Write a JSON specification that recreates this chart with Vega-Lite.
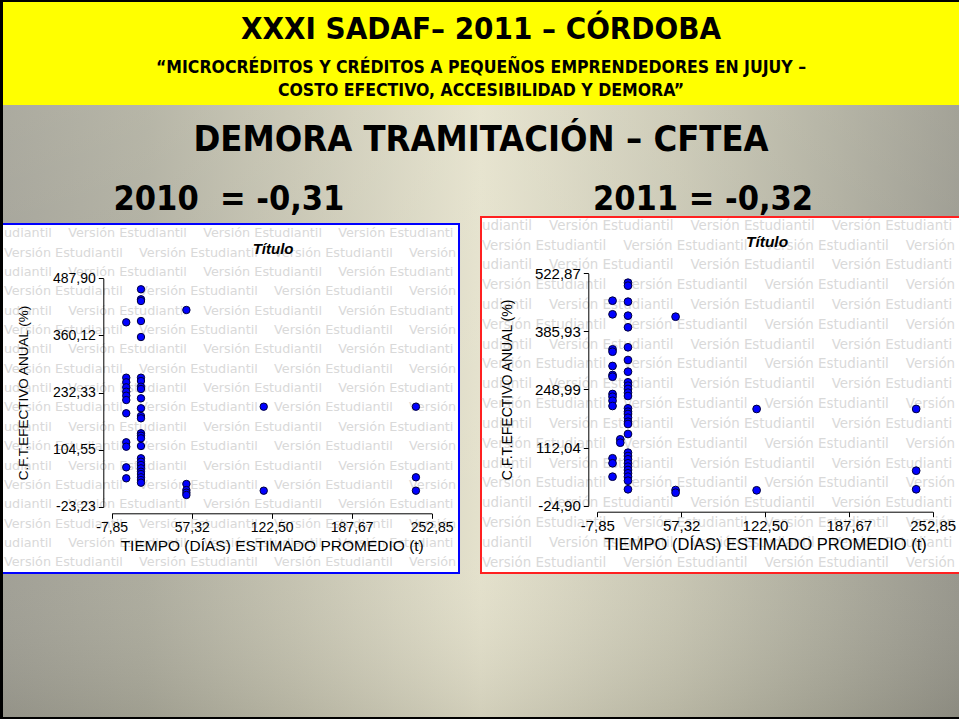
{
  "$schema": "https://vega.github.io/schema/vega-lite/v6.json",
  "background": "#000000",
  "padding": {"left": 3, "top": 2, "right": 0, "bottom": 2},
  "spacing": 0,
  "config": {
    "view": {"stroke": null},
    "concat": {"spacing": 0},
    "axis": {
      "grid": false,
      "domainColor": "#000000",
      "domainWidth": 1,
      "tickColor": "#000000",
      "tickSize": 5,
      "labelColor": "#000000",
      "labelFont": "Liberation Sans",
      "titleFont": "Liberation Sans",
      "titleColor": "#000000",
      "titleFontWeight": "normal",
      "labelFlush": false,
      "labelOverlap": false,
      "labelBound": false
    }
  },
  "datasets": {
    "y2010": [
      {"t": 4, "cft": 389.4}, {"t": 4, "cft": 265.5}, {"t": 4, "cft": 255.2}, {"t": 4, "cft": 244.0},
      {"t": 4, "cft": 234.1}, {"t": 4, "cft": 225.2}, {"t": 4, "cft": 215.5}, {"t": 4, "cft": 185.8},
      {"t": 4, "cft": 120.9}, {"t": 4, "cft": 111.0}, {"t": 4, "cft": 64.9}, {"t": 4, "cft": 40.3},
      {"t": 16, "cft": 463.3}, {"t": 16, "cft": 440.9}, {"t": 16, "cft": 437.1}, {"t": 16, "cft": 392.3},
      {"t": 16, "cft": 356.5}, {"t": 16, "cft": 265.5}, {"t": 16, "cft": 258.1}, {"t": 16, "cft": 245.3},
      {"t": 16, "cft": 240.2}, {"t": 16, "cft": 219.3}, {"t": 16, "cft": 197.0}, {"t": 16, "cft": 179.7},
      {"t": 16, "cft": 174.6}, {"t": 16, "cft": 141.0}, {"t": 16, "cft": 135.7}, {"t": 16, "cft": 129.8},
      {"t": 16, "cft": 112.6}, {"t": 16, "cft": 85.1}, {"t": 16, "cft": 77.5}, {"t": 16, "cft": 70.1},
      {"t": 16, "cft": 62.7}, {"t": 16, "cft": 55.1}, {"t": 16, "cft": 49.9}, {"t": 16, "cft": 42.6},
      {"t": 16, "cft": 36.5}, {"t": 16, "cft": 30.5},
      {"t": 53, "cft": 417.0}, {"t": 53, "cft": 27.6}, {"t": 53, "cft": 14.0}, {"t": 53, "cft": 8.1}, {"t": 53, "cft": 3.0},
      {"t": 116, "cft": 200.6}, {"t": 116, "cft": 12.6},
      {"t": 240, "cft": 200.6}, {"t": 240, "cft": 42.6}, {"t": 240, "cft": 12.6}
    ],
    "y2011": [
      {"t": 4, "cft": 458.3}, {"t": 4, "cft": 426.2}, {"t": 4, "cft": 343.7}, {"t": 4, "cft": 338.1},
      {"t": 4, "cft": 304.4}, {"t": 4, "cft": 283.2}, {"t": 4, "cft": 279.2}, {"t": 4, "cft": 238.4},
      {"t": 4, "cft": 232.0}, {"t": 4, "cft": 222.6}, {"t": 4, "cft": 210.1}, {"t": 4, "cft": 86.9},
      {"t": 4, "cft": 75.1}, {"t": 4, "cft": 43.5},
      {"t": 10, "cft": 131.6}, {"t": 10, "cft": 123.6},
      {"t": 16, "cft": 500.7}, {"t": 16, "cft": 493.7}, {"t": 16, "cft": 456.0}, {"t": 16, "cft": 423.0},
      {"t": 16, "cft": 395.6}, {"t": 16, "cft": 348.5}, {"t": 16, "cft": 318.5}, {"t": 16, "cft": 291.0},
      {"t": 16, "cft": 266.0}, {"t": 16, "cft": 258.0}, {"t": 16, "cft": 250.2}, {"t": 16, "cft": 241.5},
      {"t": 16, "cft": 233.7}, {"t": 16, "cft": 204.7}, {"t": 16, "cft": 196.7}, {"t": 16, "cft": 191.3},
      {"t": 16, "cft": 182.5}, {"t": 16, "cft": 173.1}, {"t": 16, "cft": 167.7}, {"t": 16, "cft": 144.1},
      {"t": 16, "cft": 100.1}, {"t": 16, "cft": 92.3}, {"t": 16, "cft": 84.5}, {"t": 16, "cft": 75.1},
      {"t": 16, "cft": 67.1}, {"t": 16, "cft": 59.3}, {"t": 16, "cft": 51.5}, {"t": 16, "cft": 43.5},
      {"t": 16, "cft": 34.1}, {"t": 16, "cft": 13.8},
      {"t": 53, "cft": 420.6}, {"t": 53, "cft": 12.1}, {"t": 53, "cft": 5.8},
      {"t": 116, "cft": 203.1}, {"t": 116, "cft": 11.4},
      {"t": 240, "cft": 203.1}, {"t": 240, "cft": 57.6}, {"t": 240, "cft": 13.8}
    ],
    "watermark": [
      {"n": 1, "line": "udiantil\u00a0\u00a0\u00a0\u00a0Versión Estudiantil\u00a0\u00a0\u00a0\u00a0Versión Estudiantil\u00a0\u00a0\u00a0\u00a0Versión Estudianti"},
      {"n": 2, "line": "Versión Estudiantil\u00a0\u00a0\u00a0\u00a0Versión Estudiantil\u00a0\u00a0\u00a0\u00a0Versión Estudiantil\u00a0\u00a0\u00a0\u00a0Versión"},
      {"n": 3, "line": "udiantil\u00a0\u00a0\u00a0\u00a0Versión Estudiantil\u00a0\u00a0\u00a0\u00a0Versión Estudiantil\u00a0\u00a0\u00a0\u00a0Versión Estudianti"},
      {"n": 4, "line": "Versión Estudiantil\u00a0\u00a0\u00a0\u00a0Versión Estudiantil\u00a0\u00a0\u00a0\u00a0Versión Estudiantil\u00a0\u00a0\u00a0\u00a0Versión"},
      {"n": 5, "line": "udiantil\u00a0\u00a0\u00a0\u00a0Versión Estudiantil\u00a0\u00a0\u00a0\u00a0Versión Estudiantil\u00a0\u00a0\u00a0\u00a0Versión Estudianti"},
      {"n": 6, "line": "Versión Estudiantil\u00a0\u00a0\u00a0\u00a0Versión Estudiantil\u00a0\u00a0\u00a0\u00a0Versión Estudiantil\u00a0\u00a0\u00a0\u00a0Versión"},
      {"n": 7, "line": "udiantil\u00a0\u00a0\u00a0\u00a0Versión Estudiantil\u00a0\u00a0\u00a0\u00a0Versión Estudiantil\u00a0\u00a0\u00a0\u00a0Versión Estudianti"},
      {"n": 8, "line": "Versión Estudiantil\u00a0\u00a0\u00a0\u00a0Versión Estudiantil\u00a0\u00a0\u00a0\u00a0Versión Estudiantil\u00a0\u00a0\u00a0\u00a0Versión"},
      {"n": 9, "line": "udiantil\u00a0\u00a0\u00a0\u00a0Versión Estudiantil\u00a0\u00a0\u00a0\u00a0Versión Estudiantil\u00a0\u00a0\u00a0\u00a0Versión Estudianti"},
      {"n": 10, "line": "Versión Estudiantil\u00a0\u00a0\u00a0\u00a0Versión Estudiantil\u00a0\u00a0\u00a0\u00a0Versión Estudiantil\u00a0\u00a0\u00a0\u00a0Versión"},
      {"n": 11, "line": "udiantil\u00a0\u00a0\u00a0\u00a0Versión Estudiantil\u00a0\u00a0\u00a0\u00a0Versión Estudiantil\u00a0\u00a0\u00a0\u00a0Versión Estudianti"},
      {"n": 12, "line": "Versión Estudiantil\u00a0\u00a0\u00a0\u00a0Versión Estudiantil\u00a0\u00a0\u00a0\u00a0Versión Estudiantil\u00a0\u00a0\u00a0\u00a0Versión"},
      {"n": 13, "line": "udiantil\u00a0\u00a0\u00a0\u00a0Versión Estudiantil\u00a0\u00a0\u00a0\u00a0Versión Estudiantil\u00a0\u00a0\u00a0\u00a0Versión Estudianti"},
      {"n": 14, "line": "Versión Estudiantil\u00a0\u00a0\u00a0\u00a0Versión Estudiantil\u00a0\u00a0\u00a0\u00a0Versión Estudiantil\u00a0\u00a0\u00a0\u00a0Versión"},
      {"n": 15, "line": "udiantil\u00a0\u00a0\u00a0\u00a0Versión Estudiantil\u00a0\u00a0\u00a0\u00a0Versión Estudiantil\u00a0\u00a0\u00a0\u00a0Versión Estudianti"},
      {"n": 16, "line": "Versión Estudiantil\u00a0\u00a0\u00a0\u00a0Versión Estudiantil\u00a0\u00a0\u00a0\u00a0Versión Estudiantil\u00a0\u00a0\u00a0\u00a0Versión"},
      {"n": 17, "line": "udiantil\u00a0\u00a0\u00a0\u00a0Versión Estudiantil\u00a0\u00a0\u00a0\u00a0Versión Estudiantil\u00a0\u00a0\u00a0\u00a0Versión Estudianti"},
      {"n": 18, "line": "Versión Estudiantil\u00a0\u00a0\u00a0\u00a0Versión Estudiantil\u00a0\u00a0\u00a0\u00a0Versión Estudiantil\u00a0\u00a0\u00a0\u00a0Versión"}
    ]
  },
  "vconcat": [
    {
      "width": 956,
      "height": 103,
      "view": {"fill": "#ffff00", "stroke": null},
      "title": {
        "text": "XXXI SADAF– 2011 – CÓRDOBA",
        "subtitle": ["“MICROCRÉDITOS Y CRÉDITOS A PEQUEÑOS EMPRENDEDORES EN JUJUY –", "COSTO EFECTIVO, ACCESIBILIDAD Y DEMORA”"],
        "anchor": "middle",
        "offset": -98,
        "font": "DejaVu Sans Condensed",
        "fontSize": 31,
        "fontWeight": "bold",
        "color": "#000000",
        "subtitleFont": "DejaVu Sans Condensed",
        "subtitleFontSize": 17.5,
        "subtitleFontWeight": "bold",
        "subtitleColor": "#000000",
        "subtitleLineHeight": 23,
        "subtitlePadding": 13
      },
      "data": {"values": [{}]},
      "mark": {"type": "text"}
    },
    {
      "width": 956,
      "height": 612,
      "view": {
        "stroke": null,
        "fill": {
          "gradient": "linear",
          "x1": 0, "y1": 0, "x2": 1, "y2": 0,
          "stops": [
            {"offset": 0, "color": "#a09f95"},
            {"offset": 0.15, "color": "#adac9e"},
            {"offset": 0.3, "color": "#c4c2b0"},
            {"offset": 0.5, "color": "#e4e1cc"},
            {"offset": 0.7, "color": "#c8c6b3"},
            {"offset": 0.85, "color": "#afae9f"},
            {"offset": 1, "color": "#97968c"}
          ]
        }
      },
      "title": {
        "text": "DEMORA TRAMITACIÓN – CFTEA",
        "anchor": "middle",
        "offset": -54,
        "font": "DejaVu Sans Condensed",
        "fontSize": 36,
        "fontWeight": "bold",
        "color": "#000000"
      },
      "resolve": {
        "scale": {"x": "independent", "y": "independent"},
        "axis": {"x": "independent", "y": "independent"}
      },
      "layer": [
        {
          "resolve": {
            "scale": {"x": "independent", "y": "independent"},
            "axis": {"x": "independent", "y": "independent"}
          },
          "layer": [
            {
              "data": {"values": [{}]},
              "mark": {
                "type": "rect",
                "fill": {
                  "gradient": "linear",
                  "x1": 0, "y1": 0, "x2": 0, "y2": 1,
                  "stops": [
                    {"offset": 0, "color": "rgba(255,253,235,0.12)"},
                    {"offset": 0.7, "color": "rgba(255,255,255,0)"},
                    {"offset": 1, "color": "rgba(40,38,20,0.1)"}
                  ]
                }
              },
              "encoding": {}
            },
            {
              "data": {"values": [{}]},
              "mark": {"type": "rect", "fill": "#ffffff", "stroke": "#0000ff", "strokeWidth": 2, "clip": true},
              "encoding": {
                "x": {"datum": -100, "type": "quantitative", "axis": null, "scale": {"domain": [-7.85, 252.85], "range": [108.7, 428.7], "nice": false, "zero": false}},
                "x2": {"datum": 275.1},
                "y": {"datum": 609.4, "type": "quantitative", "axis": null, "scale": {"domain": [-23.23, 487.9], "range": [401.7, 173.3], "nice": false, "zero": false}},
                "y2": {"datum": -171.6}
              }
            },
            {
              "data": {"name": "watermark"},
              "mark": {"type": "text", "font": "DejaVu Sans", "fontSize": 12.8, "color": "#d9d9d9", "align": "left", "baseline": "middle"},
              "encoding": {
                "x": {"datum": -95.6, "type": "quantitative", "axis": null, "scale": {"domain": [-7.85, 252.85], "range": [108.7, 428.7], "nice": false, "zero": false}},
                "y": {"field": "n", "type": "ordinal", "axis": null, "scale": {"type": "point", "range": [128.3, 457.3], "padding": 0}},
                "text": {"field": "line"}
              }
            },
            {
              "data": {"name": "y2010"},
              "mark": {"type": "circle", "size": 55, "color": "#0000ff", "stroke": "#00003a", "strokeWidth": 1, "opacity": 1},
              "encoding": {
                "x": {
                  "field": "t", "type": "quantitative",
                  "scale": {"domain": [-7.85, 252.85], "range": [108.7, 428.7], "nice": false, "zero": false},
                  "axis": {
                    "orient": "bottom", "offset": -203.7, "zindex": 1,
                    "values": [-7.85, 57.32, 122.5, 187.67, 252.85],
                    "labelExpr": "(datum.value < 0 ? '-' : '') + replace(format(abs(datum.value), '.2f'), '.', ',')",
                    "title": "TIEMPO (DÍAS) ESTIMADO PROMEDIO (t)",
                    "labelFontSize": 14, "labelPadding": 2,
                    "titleFontSize": 15.5, "titlePadding": 4
                  }
                },
                "y": {
                  "field": "cft", "type": "quantitative",
                  "scale": {"domain": [-23.23, 487.9], "range": [401.7, 173.3], "nice": false, "zero": false},
                  "axis": {
                    "orient": "left", "offset": -100.3, "zindex": 1,
                    "values": [-23.23, 104.55, 232.33, 360.12, 487.9],
                    "labelExpr": "(datum.value < 0 ? '-' : '') + replace(format(abs(datum.value), '.2f'), '.', ',')",
                    "title": "C.F.T.EFECTIVO ANUAL (%)",
                    "labelFontSize": 14, "labelPadding": 3,
                    "titleFontSize": 13.5, "titlePadding": 22
                  }
                }
              }
            },
            {
              "data": {"values": [{}]},
              "mark": {"type": "text", "font": "Liberation Sans", "fontSize": 15, "fontWeight": "bold", "fontStyle": "italic", "color": "#000000", "baseline": "middle", "align": "center"},
              "encoding": {
                "x": {"datum": 123.6, "type": "quantitative", "axis": null, "scale": {"domain": [-7.85, 252.85], "range": [108.7, 428.7], "nice": false, "zero": false}},
                "y": {"datum": 553.5, "type": "quantitative", "axis": null, "scale": {"domain": [-23.23, 487.9], "range": [401.7, 173.3], "nice": false, "zero": false}},
                "text": {"value": "Título"}
              }
            },
            {
              "data": {"values": [{}]},
              "mark": {"type": "text", "font": "DejaVu Sans Condensed", "fontSize": 34, "fontWeight": "bold", "color": "#000000", "baseline": "middle", "align": "center"},
              "encoding": {
                "x": {"datum": 87.7, "type": "quantitative", "axis": null, "scale": {"domain": [-7.85, 252.85], "range": [108.7, 428.7], "nice": false, "zero": false}},
                "y": {"datum": 663.2, "type": "quantitative", "axis": null, "scale": {"domain": [-23.23, 487.9], "range": [401.7, 173.3], "nice": false, "zero": false}},
                "text": {"value": "2010\u00a0 = -0,31"}
              }
            }
          ]
        },
        {
          "resolve": {
            "scale": {"x": "independent", "y": "independent"},
            "axis": {"x": "independent", "y": "independent"}
          },
          "layer": [
            {
              "data": {"values": [{}]},
              "mark": {"type": "rect", "fill": "#ffffff", "stroke": "#ff2020", "strokeWidth": 2, "clip": true},
              "encoding": {
                "x": {"datum": -98.25, "type": "quantitative", "axis": null, "scale": {"domain": [-7.85, 252.85], "range": [594.3, 929.7], "nice": false, "zero": false}},
                "x2": {"datum": 285},
                "y": {"datum": 655.6, "type": "quantitative", "axis": null, "scale": {"domain": [-24.9, 522.87], "range": [400.7, 168.3], "nice": false, "zero": false}},
                "y2": {"datum": -183.5}
              }
            },
            {
              "data": {"name": "watermark"},
              "mark": {"type": "text", "font": "DejaVu Sans", "fontSize": 13.4, "color": "#d9d9d9", "align": "left", "baseline": "middle"},
              "encoding": {
                "x": {"datum": -97.5, "type": "quantitative", "axis": null, "scale": {"domain": [-7.85, 252.85], "range": [594.3, 929.7], "nice": false, "zero": false}},
                "y": {"field": "n", "type": "ordinal", "axis": null, "scale": {"type": "point", "range": [120.7, 457.7], "padding": 0}},
                "text": {"field": "line"}
              }
            },
            {
              "data": {"name": "y2011"},
              "mark": {"type": "circle", "size": 60, "color": "#0000ff", "stroke": "#00003a", "strokeWidth": 1, "opacity": 1},
              "encoding": {
                "x": {
                  "field": "t", "type": "quantitative",
                  "scale": {"domain": [-7.85, 252.85], "range": [594.3, 929.7], "nice": false, "zero": false},
                  "axis": {
                    "orient": "bottom", "offset": -205.3, "zindex": 1,
                    "values": [-7.85, 57.32, 122.5, 187.67, 252.85],
                    "labelExpr": "(datum.value < 0 ? '-' : '') + replace(format(abs(datum.value), '.2f'), '.', ',')",
                    "title": "TIEMPO (DÍAS) ESTIMADO PROMEDIO (t)",
                    "labelFontSize": 15, "labelPadding": 2,
                    "titleFontSize": 16.5, "titlePadding": 3
                  }
                },
                "y": {
                  "field": "cft", "type": "quantitative",
                  "scale": {"domain": [-24.9, 522.87], "range": [400.7, 168.3], "nice": false, "zero": false},
                  "axis": {
                    "orient": "left", "offset": -585.3, "zindex": 1,
                    "values": [-24.9, 112.04, 248.99, 385.93, 522.87],
                    "labelExpr": "(datum.value < 0 ? '-' : '') + replace(format(abs(datum.value), '.2f'), '.', ',')",
                    "title": "C.F.T.EFECTIVO ANUAL (%)",
                    "labelFontSize": 15, "labelPadding": 3,
                    "titleFontSize": 14, "titlePadding": 20
                  }
                }
              }
            },
            {
              "data": {"values": [{}]},
              "mark": {"type": "text", "font": "Liberation Sans", "fontSize": 15.5, "fontWeight": "bold", "fontStyle": "italic", "color": "#000000", "baseline": "middle", "align": "center"},
              "encoding": {
                "x": {"datum": 124.1, "type": "quantitative", "axis": null, "scale": {"domain": [-7.85, 252.85], "range": [594.3, 929.7], "nice": false, "zero": false}},
                "y": {"datum": 596.6, "type": "quantitative", "axis": null, "scale": {"domain": [-24.9, 522.87], "range": [400.7, 168.3], "nice": false, "zero": false}},
                "text": {"value": "Título"}
              }
            },
            {
              "data": {"values": [{}]},
              "mark": {"type": "text", "font": "DejaVu Sans Condensed", "fontSize": 34, "fontWeight": "bold", "color": "#000000", "baseline": "middle", "align": "center"},
              "encoding": {
                "x": {"datum": 74.3, "type": "quantitative", "axis": null, "scale": {"domain": [-7.85, 252.85], "range": [594.3, 929.7], "nice": false, "zero": false}},
                "y": {"datum": 695.6, "type": "quantitative", "axis": null, "scale": {"domain": [-24.9, 522.87], "range": [400.7, 168.3], "nice": false, "zero": false}},
                "text": {"value": "2011 = -0,32"}
              }
            }
          ]
        }
      ]
    }
  ]
}
